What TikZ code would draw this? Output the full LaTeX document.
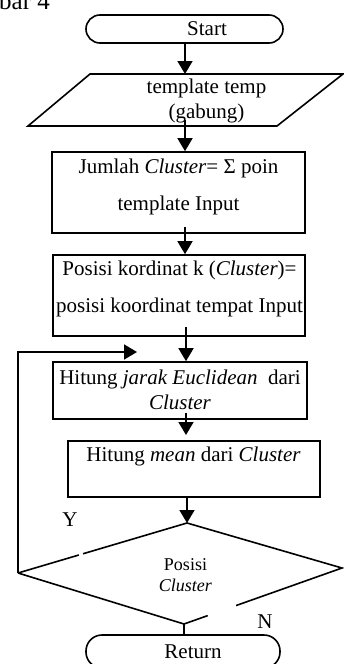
\documentclass[tikz,border=0pt]{standalone}
\usepackage{fontspec}
\setmainfont{Liberation Serif}
\usetikzlibrary{arrows.meta,calc}
\begin{document}
\begin{tikzpicture}[x=1pt,y=-1pt,
  every node/.style={font=\fontsize{21}{25}\selectfont, inner sep=0pt},
  line/.style={line width=1.6pt},
  arr/.style={line width=1.6pt, -{Triangle[width=15pt,length=13pt]}},
  box/.style={draw, line width=1.6pt, rectangle},
  term/.style={draw, line width=1.6pt, rectangle},
]
\useasboundingbox (0,0) rectangle (343,664);

% title fragment (cut at the top edge, as in the reference)
\node[anchor=base west, font=\fontsize{25}{29}\selectfont] (title) at (-1,9) {bar 4};

% Start terminal
\node[term, rounded corners=14pt, minimum width=197pt, minimum height=28pt] (start) at (184.5,29) {\hspace*{45pt}Start};

% parallelogram
\coordinate (pA) at (90,74);
\coordinate (pB) at (343,74);
\coordinate (pC) at (277,126);
\coordinate (pD) at (28,126);
\draw[line] (pA) -- (pB) -- (pC) -- (pD) -- cycle;
\node[align=center] (par) at (206.5,100.5) {template temp\\(gabung)};

% box 1
\node[box, minimum width=253pt, minimum height=81pt] (box1) at (178.5,192.5) {};
\node[align=center] (t1) at (178.5,186.5) {Jumlah \textit{Cluster}= Σ poin\\[12pt]template Input};

% box 2
\node[box, minimum width=252pt, minimum height=81pt] (box2) at (179,295.5) {};
\node[align=center] (t2) at (179.5,288.5) {Posisi kordinat k (\textit{Cluster})=\\[12pt]posisi koordinat tempat Input};

% box 3
\node[box, minimum width=254pt, minimum height=57pt] (box3) at (180,390.5) {};
\node[align=center] (t3) at (180,389.5) {Hitung \textit{jarak Euclidean}\ \ dari\\\textit{Cluster}};

% box 4
\node[box, minimum width=252pt, minimum height=56pt] (box4) at (194,469) {};
\node (t4) at (193.5,456) {Hitung \textit{mean} dari \textit{Cluster}};

% decision diamond
\coordinate (dT) at (187,523);
\coordinate (dL) at (18,573);
\coordinate (dR) at (342,568);
\coordinate (dB) at (184,624);
\coordinate (g1a) at ($(dL)!0.36!(dT)$);
\coordinate (g1b) at ($(dL)!0.385!(dT)$);
\coordinate (g2a) at ($(dB)!0.15!(dR)$);
\coordinate (g2b) at ($(dB)!0.33!(dR)$);
\draw[line] (dL) -- (g1a);
\draw[line] (g1b) -- (dT) -- (dR) -- (g2b);
\draw[line] (g2a) -- (dB) -- (dL);
\node[align=center, font=\fontsize{18}{21}\selectfont] (dtext) at (185.5,575) {Posisi\\\textit{Cluster}};

% Return terminal
\node[term, rounded corners=16pt, minimum width=194pt, minimum height=33pt] (ret) at (183,651.5) {\hspace*{20pt}Return};

% labels
\node (lY) at (70,520) {Y};
\node (lN) at (265,622) {N};

% arrow start points
\coordinate (s1) at (185,43);
\coordinate (s2) at (185,120);
\coordinate (s3) at (185,227);
\coordinate (s4) at (186,327);
\coordinate (s5) at (186,413);
\coordinate (e5) at (186,435);
\coordinate (loopEnd) at (137,352);

% connectors
\draw[arr] (s1) -- (s1 |- pA);
\draw[arr] (s2) -- (s2 |- box1.north);
\draw[arr] (s3) -- (s3 |- box2.north);
\draw[arr] (s4) -- (s4 |- box3.north);
\draw[arr] (s5) -- (e5);
\draw[arr] (dT |- box4.south) -- (dT);
\draw[arr] (dL) -- (dL |- loopEnd) -- (loopEnd);
\draw[line] (dB) -- (dB |- ret.north);
\end{tikzpicture}
\end{document}
